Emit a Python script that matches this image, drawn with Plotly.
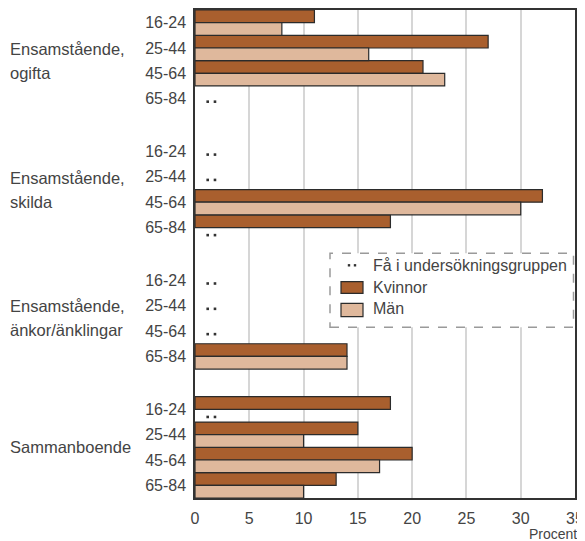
import plotly.graph_objects as go

# ---- data ----
group_lines = [["Ensamstående,", "ogifta"],
               ["Ensamstående,", "skilda"],
               ["Ensamstående,", "änkor/änklingar"],
               ["Sammanboende"]]
age_bands = ["16-24", "25-44", "45-64", "65-84"]
kvinnor = [11, 27, 21, None,
           None, None, 32, 18,
           None, None, None, 14,
           18, 15, 20, 13]
man = [8, 16, 23, None,
       None, None, 30, None,
       None, None, None, 14,
       None, 10, 17, 10]
series_names = ["Kvinnor", "Män"]
few_label = "Få i undersökningsgruppen"
x_ticks = [0, 5, 10, 15, 20, 25, 30, 35]
x_title = "Procent"

# ---- layout helpers ----
P = 5.09  # group period in band units
C_K = "#A95F2E"
C_M = "#DFB89C"
EDGE = "#2b2b2b"
TXT = "#444444"
FONT = "Liberation Sans"

ypos = []
ticktext = []
for g in range(len(group_lines)):
    for i, a in enumerate(age_bands):
        ypos.append(g * P + i)
        ticktext.append(a)

fig = go.Figure()
fig.add_trace(go.Bar(
    y=ypos, x=kvinnor, orientation="h", name=series_names[0],
    offset=-0.5, width=0.5, marker=dict(color=C_K, line=dict(color=EDGE, width=1.2)),
    showlegend=False, hoverinfo="x"))
fig.add_trace(go.Bar(
    y=ypos, x=man, orientation="h", name=series_names[1],
    offset=0.0, width=0.5, marker=dict(color=C_M, line=dict(color=EDGE, width=1.2)),
    showlegend=False, hoverinfo="x"))

# dots for missing values
dx, dy = [], []
for y, k, m in zip(ypos, kvinnor, man):
    if k is None and m is None:
        yy = y + 0.12
    elif m is None:
        yy = y + 0.3
    elif k is None:
        yy = y - 0.25
    else:
        continue
    dx += [1.17, 1.84]
    dy += [yy, yy]
fig.add_trace(go.Scatter(x=dx, y=dy, mode="markers",
                         marker=dict(symbol="square", size=2.6, color="#333333"),
                         showlegend=False, hoverinfo="skip"))

# plot area in screen pixels: x 195..575, y 10..498
W, H = 380.0, 488.0
def px(x):
    return (x - 195.0) / W
def py(y):
    return (498.0 - y) / H

annotations = []
# group labels
for g, lines in enumerate(group_lines):
    center = g * P + 1.5
    n = len(lines)
    for j, line in enumerate(lines):
        yy = center + (j - (n - 1) / 2) * 0.95
        annotations.append(dict(x=px(8), xref="paper", y=yy, yref="y", text=line,
                                showarrow=False, xanchor="left", yanchor="middle",
                                font=dict(family=FONT, size=16.5, color=TXT)))

# x-axis title
annotations.append(dict(x=px(579), xref="paper", y=py(534), yref="paper", text=x_title,
                        showarrow=False, xanchor="right", yanchor="middle",
                        font=dict(family=FONT, size=14, color=TXT)))

# manual legend
shapes = [
    dict(type="rect", xref="paper", yref="paper", x0=px(330), x1=px(573.5),
         y0=py(327.3), y1=py(253.3), line=dict(color="#9a9a9a", width=1.5, dash="dash"),
         fillcolor="white", layer="above"),
    dict(type="rect", xref="paper", yref="paper", x0=px(341), x1=px(363),
         y0=py(293.3), y1=py(281.7), line=dict(color=EDGE, width=1.2),
         fillcolor=C_K, layer="above"),
    dict(type="rect", xref="paper", yref="paper", x0=px(341), x1=px(363),
         y0=py(316.7), y1=py(303.3), line=dict(color=EDGE, width=1.2),
         fillcolor=C_M, layer="above"),
]
for xx in (349, 355):
    shapes.append(dict(type="rect", xref="paper", yref="paper", x0=px(xx - 1.2), x1=px(xx + 1.2),
                       y0=py(266.5), y1=py(264.1), line=dict(width=0), fillcolor="#333333",
                       layer="above"))
for txt, yy in zip([few_label] + series_names, [265, 287.5, 309]):
    annotations.append(dict(x=px(371), xref="paper", y=py(yy), yref="paper", text=txt,
                            showarrow=False, xanchor="left", yanchor="middle",
                            font=dict(family=FONT, size=16, color=TXT)))

# page body has an 8px margin: the figure occupies screen x 8..585, y 8..541
fig.update_layout(
    width=577, height=533,
    margin=dict(l=187, r=10, t=2, b=43, autoexpand=False),
    paper_bgcolor="white", plot_bgcolor="white",
    barmode="overlay",
    showlegend=False,
    shapes=shapes, annotations=annotations,
    font=dict(family=FONT, size=15, color=TXT),
)
fig.update_xaxes(range=[0, 35], tickvals=x_ticks, ticktext=[str(v) for v in x_ticks],
                 automargin=False,
                 showgrid=True, gridcolor="#d6d6d6", gridwidth=1.5,
                 showline=True, linecolor="#333333", linewidth=1.5, mirror=True,
                 ticks="outside", ticklen=5, tickcolor="rgba(0,0,0,0)",
                 zeroline=False, tickfont=dict(family=FONT, size=16, color=TXT))
fig.update_yaxes(range=[3 * P + 3.5, -0.5], tickvals=ypos, ticktext=ticktext,
                 automargin=False,
                 showgrid=False, zeroline=False,
                 showline=True, linecolor="#333333", linewidth=1.5, mirror=True,
                 ticks="outside", ticklen=4, tickcolor="rgba(0,0,0,0)",
                 tickfont=dict(family=FONT, size=16, color=TXT))

fig.write_html("out.html")
